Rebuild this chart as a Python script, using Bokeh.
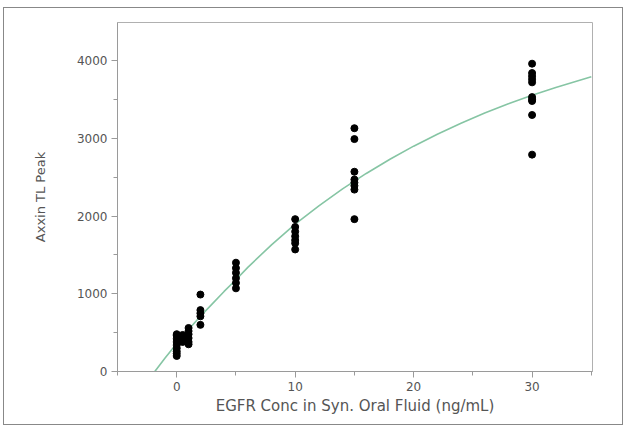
from bokeh.plotting import figure
from bokeh.models import Range1d, FixedTicker
from bokeh.embed import file_html
from bokeh.resources import INLINE

# ---- data ----
conc_0 = [480, 460, 420, 380, 340, 300, 260, 230, 200]
conc_0_5 = [470, 430, 380]
conc_1 = [560, 520, 480, 430, 380, 350]
conc_2 = [990, 790, 750, 710, 600]
conc_5 = [1400, 1330, 1270, 1200, 1140, 1070]
conc_10 = [1960, 1860, 1800, 1740, 1690, 1650, 1570]
conc_15 = [3130, 2990, 2570, 2470, 2430, 2390, 2340, 1960]
conc_30 = [3960, 3840, 3800, 3760, 3720, 3530, 3500, 3480, 3300, 2790]
groups = {0: conc_0, 0.5: conc_0_5, 1: conc_1, 2: conc_2, 5: conc_5,
          10: conc_10, 15: conc_15, 30: conc_30}

# fitted curve, read along its path
curve_x = [-1.85, -1, 0, 1, 2, 3, 4, 5, 6, 8, 10, 12, 14, 16, 18, 20, 22, 24, 26, 28, 30, 32, 35]
curve_y = [0, 170, 360, 540, 710, 870, 1030, 1180, 1340, 1630, 1896, 2132, 2349, 2548, 2731,
           2899, 3053, 3195, 3325, 3444, 3554, 3655, 3791]

x_ticks = [0, 10, 20, 30]
x_minor = [-5, 5, 15, 25, 35]
y_ticks = [0, 1000, 2000, 3000, 4000]
y_minor = [500, 1500, 2500, 3500]
x_label = "EGFR Conc in Syn. Oral Fluid (ng/mL)"
y_label = "Axxin TL Peak"

xs, ys = [], []
for c, vals in groups.items():
    xs += [c] * len(vals)
    ys += vals

FONT = "DejaVu Sans"
AX = "#9a9a9a"
TXT = "#555555"

p = figure(width=620, height=418, output_backend="svg", toolbar_location=None,
           x_range=Range1d(-5, 35.1), y_range=Range1d(0, 4490),
           min_border_left=113, min_border_right=32, min_border_top=14, min_border_bottom=55)
p.background_fill_color = "white"
p.border_fill_color = "white"
p.outline_line_color = "#b0b0b0"
p.xgrid.visible = False
p.ygrid.visible = False

p.line(curve_x, curve_y, line_color="#86c5a4", line_width=1.6)
p.scatter(xs, ys, size=7, color="black")

for ax, ticks, minor in ((p.xaxis[0], x_ticks, x_minor),
                         (p.yaxis[0], y_ticks, y_minor)):
    ax.ticker = FixedTicker(ticks=ticks, minor_ticks=minor)
    ax.axis_line_color = AX
    ax.major_tick_line_color = AX
    ax.minor_tick_line_color = AX
    ax.major_tick_out = 6
    ax.major_tick_in = 0
    ax.minor_tick_out = 4
    ax.minor_tick_in = 0
    ax.major_label_text_font = FONT
    ax.major_label_text_font_size = "12px"
    ax.major_label_text_color = TXT
    ax.axis_label_text_font = FONT
    ax.axis_label_text_font_style = "normal"
    ax.axis_label_text_color = TXT

p.xaxis.axis_label = x_label
p.yaxis.axis_label = y_label
p.xaxis.axis_label_text_font_size = "15px"
p.yaxis.axis_label_text_font_size = "13px"
p.xaxis.major_label_standoff = 4
p.yaxis.major_label_standoff = 4
p.xaxis.axis_label_standoff = 3
p.yaxis.axis_label_standoff = 26

p.styles = {"border": "1px solid #888888", "margin": "7px 0 0 3px"}

open("out.html", "w").write(file_html(p, INLINE))
